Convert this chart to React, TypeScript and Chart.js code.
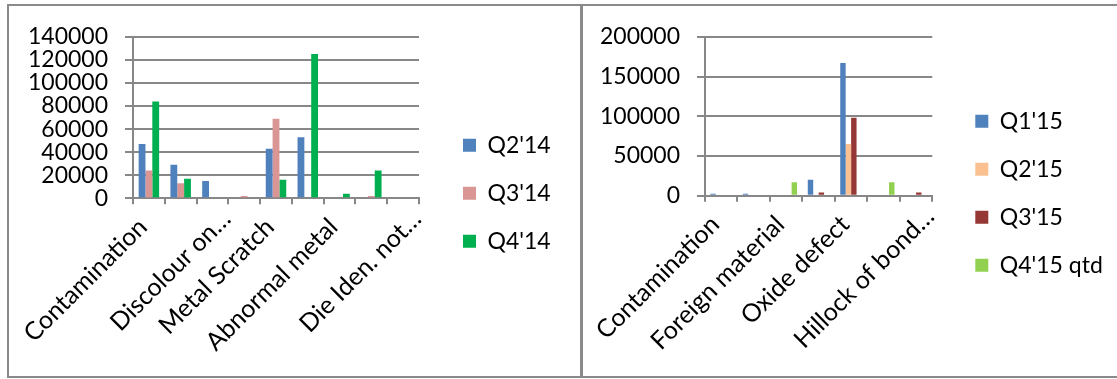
import React, { useEffect, useRef } from 'react';
import { Chart, registerables } from 'chart.js';

Chart.register(...registerables);

// ---- Left chart data (2014) ----
const leftCategories = ['Contamination', '', 'Discolour on…', '', 'Metal Scratch', '', 'Abnormal metal', '', 'Die Iden. not…'];
const q2_14 = [47000, 29000, 15000, 0, 43000, 53000, 0, 0, 0];
const q3_14 = [24000, 13000, 0, 2000, 69000, 0, 0, 2000, 0];
const q4_14 = [84000, 17000, 0, 0, 16000, 125000, 4000, 24000, 0];
const leftSeriesNames = ["Q2'14", "Q3'14", "Q4'14"];
const leftColors = ['#4F81BD', '#D99694', '#00B050'];
const leftTicks = { min: 0, max: 140000, step: 20000 };

// ---- Right chart data (2015) ----
const rightCategories = ['Contamination', '', 'Foreign material', '', 'Oxide defect', '', 'Hillock of bond…'];
const q1_15 = [2500, 2500, 0, 20000, 167000, 0, 0];
const q2_15 = [0, 0, 0, 0, 65000, 0, 0];
const q3_15 = [0, 0, 0, 4000, 98000, 0, 4000];
const q4_15 = [0, 0, 17000, 0, 0, 17000, 0];
const rightSeriesNames = ["Q1'15", "Q2'15", "Q3'15", "Q4'15 qtd"];
const rightColors = ['#4F81BD', '#FAC090', '#953735', '#92D050'];
const rightTicks = { min: 0, max: 200000, step: 50000 };

const FONT_FAMILY = 'Lato, "Open Sans", "DejaVu Sans", sans-serif';
const FONT_SIZE = 23;
const X_FONT_SIZE = 25;
const GRID = '#878787';
const TEXT = '#000000';
const LEGEND_PAD = 25;
const BOX = 13;

type Layout = {
  canvasWidth: number;
  yWidth: number;
  chartRight: number;
  xHeight: number;
  gap: number;
  catPct: number;
  padBottom: number;
};

function measureMax(names: string[]): number {
  const ctx = document.createElement('canvas').getContext('2d');
  if (!ctx) return 64;
  ctx.font = `${FONT_SIZE}px ${FONT_FAMILY}`;
  return Math.max(...names.map((n) => ctx.measureText(n).width));
}

// Excel places truncated ("…") category labels a little further along the axis.
const truncatedLabelShift = {
  id: 'truncatedLabelShift',
  beforeDraw(chart: any) {
    const scale = chart.scales.x;
    if (!scale) return;
    const items = scale.getLabelItems();
    items.forEach((it: any) => {
      const text = Array.isArray(it.label) ? it.label.join('') : String(it.label ?? '');
      if (text.endsWith('…') && !it._shifted) {
        const t = it.options.translation;
        it.options.translation = [t[0] + 20, t[1] - 8];
        it._shifted = true;
      }
    });
  },
};

function buildConfig(categories: string[], series: number[][], names: string[], colors: string[], ticks: { min: number; max: number; step: number }, lay: Layout): any {
  const font = { family: FONT_FAMILY, size: FONT_SIZE };
  const xFont = { family: FONT_FAMILY, size: X_FONT_SIZE };
  const legendWidth = LEGEND_PAD + BOX + FONT_SIZE / 2 + measureMax(names) + 10;
  const padRight = Math.max(0, lay.canvasWidth - lay.chartRight - lay.gap - legendWidth);
  return {
    type: 'bar',
    data: {
      labels: categories,
      datasets: series.map((d, i) => ({
        label: names[i],
        data: d,
        backgroundColor: colors[i],
        borderWidth: 0,
        categoryPercentage: lay.catPct,
        barPercentage: 1,
      })),
    },
    plugins: [truncatedLabelShift],
    options: {
      animation: false,
      responsive: false,
      maintainAspectRatio: false,
      events: [],
      layout: { padding: { top: 28.5, left: 0, right: padRight, bottom: lay.padBottom } },
      plugins: {
        legend: {
          position: 'right',
          maxWidth: 1000,
          labels: {
            boxWidth: BOX,
            boxHeight: BOX,
            padding: LEGEND_PAD,
            font,
            color: TEXT,
          },
        },
        tooltip: { enabled: false },
        title: { display: false },
      },
      scales: {
        x: {
          grid: { display: true, drawOnChartArea: false, drawTicks: true, tickLength: 6, color: GRID, lineWidth: 2 },
          border: { display: true, color: GRID, width: 2 },
          ticks: {
            autoSkip: false,
            maxRotation: 45,
            minRotation: 45,
            font: xFont,
            color: TEXT,
            padding: 8,
            labelOffset: -6,
          },
          afterFit: (s: any) => { s.height = lay.xHeight; },
        },
        y: {
          min: ticks.min,
          max: ticks.max,
          ticks: { stepSize: ticks.step, autoSkip: false, font, color: TEXT, padding: 17, callback: (v: any) => String(v) },
          grid: { color: GRID, lineWidth: 2, tickLength: 8, drawTicks: true },
          border: { display: true, color: GRID, width: 2 },
          afterFit: (s: any) => { s.width = lay.yWidth; },
        },
        gap: {
          type: 'linear',
          position: 'right',
          display: true,
          grid: { display: false, drawTicks: false },
          border: { display: false },
          ticks: { display: false },
          afterFit: (s: any) => { s.width = lay.gap; },
        },
      },
    },
  };
}

function ChartCanvas({ make, width, height, left, top }: { make: () => any; width: number; height: number; left: number; top: number }) {
  const ref = useRef<HTMLCanvasElement | null>(null);
  useEffect(() => {
    if (!ref.current) return;
    const chart = new Chart(ref.current, make());
    return () => chart.destroy();
  }, [make]);
  return (
    <canvas
      ref={ref}
      width={width}
      height={height}
      style={{ position: 'absolute', left, top, width, height, display: 'block' }}
    />
  );
}

const makeLeft = () => buildConfig(
  leftCategories,
  [q2_14, q3_14, q4_14],
  leftSeriesNames,
  leftColors,
  leftTicks,
  { canvasWidth: 571, yWidth: 124, chartRight: 410, xHeight: 153.7, gap: 19, catPct: 0.645, padBottom: 24 }
);

const makeRight = () => buildConfig(
  rightCategories,
  [q1_15, q2_15, q3_15, q4_15],
  rightSeriesNames,
  rightColors,
  rightTicks,
  { canvasWidth: 534, yWidth: 122, chartRight: 349.3, xHeight: 156.3, gap: 18, catPct: 0.67, padBottom: 24 }
);

export default function App() {
  useEffect(() => {
    document.body.style.margin = '0';
    document.body.style.background = '#ffffff';
  }, []);
  return (
    <div style={{ position: 'relative', width: 1117, height: 379, overflow: 'hidden', background: '#fff' }}>
      <div style={{ position: 'absolute', left: 7, top: 4, width: 576, height: 374, border: '2px solid #8a8a8a', boxSizing: 'border-box' }} />
      <div style={{ position: 'absolute', left: 580, top: 4, width: 560, height: 374, border: '2px solid #8a8a8a', boxSizing: 'border-box' }} />
      <ChartCanvas make={makeLeft} width={571} height={370} left={9} top={6} />
      <ChartCanvas make={makeRight} width={534} height={370} left={583} top={6} />
    </div>
  );
}
